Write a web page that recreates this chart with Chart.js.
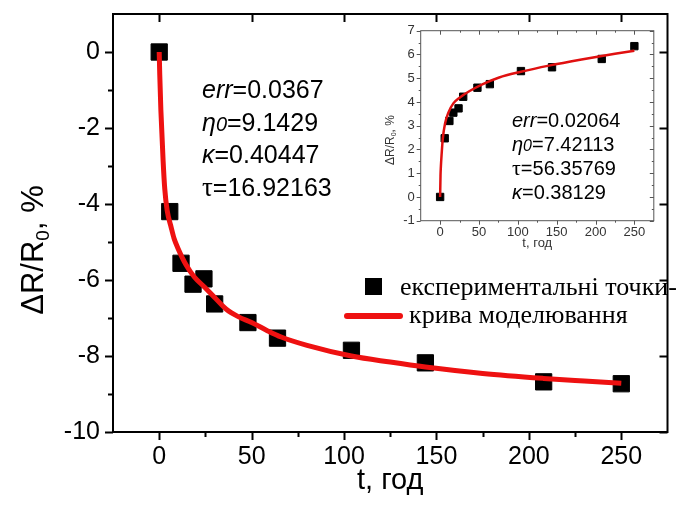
<!DOCTYPE html>
<html lang="uk">
<head>
<meta charset="UTF-8">
<title>ΔR/R0 від часу</title>
<script src="https://cdn.jsdelivr.net/npm/chart.js"></script>
<style>
  body { margin: 0; background: #fff; }
  #wrap { position: relative; width: 680px; height: 506px; }
  #main { position: absolute; left: 0; top: 0; }
  #inset { position: absolute; left: 380px; top: 10px; }
</style>
</head>
<body>
<div id="wrap">
  <canvas id="main" width="680" height="506"></canvas>
  <canvas id="inset" width="280" height="250"></canvas>
</div>
<script>
// main plot: experimental points and model curve
const tPoints = [0, 5.7, 11.8, 18.3, 24.2, 30, 48, 64, 104, 144, 208, 250];
const rPoints = [0, -4.2, -5.56, -6.11, -5.97, -6.63, -7.12, -7.53, -7.85, -8.18, -8.68, -8.73];
const tCurve = [0, 0.3, 0.9, 2.1, 3, 4.3, 6.5, 8, 10, 14.5, 19, 24.6, 30, 36.3, 43, 50, 58, 66, 80, 104, 125, 144, 175, 208, 230, 250];
const rCurve = [0, -0.6, -1.53, -2.85, -3.6, -4.17, -4.62, -4.9, -5.15, -5.6, -5.92, -6.19, -6.46, -6.77, -6.97, -7.12, -7.32, -7.5, -7.72, -8.0, -8.16, -8.29, -8.46, -8.59, -8.66, -8.72];

// inset
const tInset = [0, 5.9, 11.9, 17, 23.7, 29.7, 48, 64, 104, 144, 208, 250];
const rInset = [0, 2.47, 3.2, 3.55, 3.73, 4.22, 4.6, 4.75, 5.3, 5.46, 5.81, 6.35];
const tInsetCurve = [0, 0.5, 1, 2, 3.4, 6.4, 10.6, 17, 25.4, 38, 55, 76, 104, 140, 182, 225, 250];
const rInsetCurve = [0, 0.9, 1.3, 1.83, 2.45, 3.1, 3.55, 3.94, 4.19, 4.46, 4.75, 5.03, 5.27, 5.53, 5.79, 6.03, 6.16];

// ticks
const xTicks = [0, 50, 100, 150, 200, 250];
const xMinor = [25, 75, 125, 175, 225];
const yTicks = [-10, -8, -6, -4, -2, 0];
const yMinor = [-9, -7, -5, -3, -1];
const yTicksInset = [-1, 0, 1, 2, 3, 4, 5, 6, 7];
const yMinorInset = [-0.5, 0.5, 1.5, 2.5, 3.5, 4.5, 5.5, 6.5];

// fit parameters
const mainFitNames = ['err', 'η0', 'κ', 'τ'];
const mainFitValues = ['0.0367', '9.1429', '0.40447', '16.92163'];
const insetFitNames = ['err', 'η0', 'τ', 'κ'];
const insetFitValues = ['0.02064', '7.42113', '56.35769', '0.38129'];

const SANS = '"Liberation Sans", Arial, sans-serif';
const SERIF = '"Liberation Serif", "Times New Roman", serif';
const zip = (xs, ys) => xs.map((x, i) => ({ x, y: ys[i] }));

function drawFrame(chart, o) {
  const { ctx, chartArea: a, scales: { x, y } } = chart;
  ctx.save();
  ctx.strokeStyle = o.color;
  ctx.lineWidth = o.lw;
  ctx.strokeRect(a.left, a.top, a.right - a.left, a.bottom - a.top);
  ctx.beginPath();
  const xt = (vals, len, top) => vals.forEach(v => {
    const px = Math.round(x.getPixelForValue(v)) + 0.5;
    ctx.moveTo(px, a.bottom); ctx.lineTo(px, a.bottom + len);
    if (top) { ctx.moveTo(px, a.top); ctx.lineTo(px, a.top + len); }
  });
  const yt = (vals, len, right) => vals.forEach(v => {
    const py = Math.round(y.getPixelForValue(v)) + 0.5;
    ctx.moveTo(a.left, py); ctx.lineTo(a.left - len, py);
    if (right) { ctx.moveTo(a.right, py); ctx.lineTo(a.right - len, py); }
  });
  xt(o.xMajor, o.major, true);
  xt(o.xMinor, o.minor, o.minorMirror);
  yt(o.yMajor, o.major, true);
  yt(o.yMinor, o.minor, o.minorMirror);
  ctx.stroke();
  ctx.restore();
}

function drawFit(ctx, names, values, x, y0, dy, size) {
  ctx.save();
  ctx.fillStyle = '#000';
  ctx.textBaseline = 'alphabetic';
  ctx.textAlign = 'left';
  names.forEach((name, i) => {
    const by = y0 + i * dy;
    let cx = x;
    const seg = (txt, font) => { ctx.font = font; ctx.fillText(txt, cx, by); cx += ctx.measureText(txt).width; };
    if (name === 'η0') {
      seg('η', `italic ${size}px ${SANS}`);
      seg('0', `italic ${Math.round(size * 0.78)}px ${SANS}`);
    } else if (name === 'τ') {
      seg('τ', `${size + 2}px ${SERIF}`);
    } else {
      seg(name, `italic ${size}px ${SANS}`);
    }
    seg('=' + values[i], `${size}px ${SANS}`);
  });
  ctx.restore();
}

function drawYTitle(ctx, cx, cy, size, color) {
  ctx.save();
  ctx.translate(cx, cy);
  ctx.rotate(-Math.PI / 2);
  ctx.fillStyle = color;
  ctx.textBaseline = 'alphabetic';
  const big = `${size}px ${SANS}`, small = `${Math.round(size * 0.62)}px ${SANS}`;
  ctx.font = big; const w1 = ctx.measureText('ΔR/R').width;
  ctx.font = small; const w2 = ctx.measureText('0').width;
  ctx.font = big; const w3 = ctx.measureText(', %').width;
  let x = -(w1 + w2 + w3) / 2;
  ctx.fillText('ΔR/R', x, 0); x += w1;
  ctx.font = small; ctx.fillText('0', x, size * 0.2); x += w2;
  ctx.font = big; ctx.fillText(', %', x, 0);
  ctx.restore();
}

const mainDecor = {
  id: 'mainDecor',
  afterDraw(chart) {
    const { ctx, chartArea: a } = chart;
    drawFrame(chart, { color: '#000', lw: 2, major: 8, minor: 5, minorMirror: false,
      xMajor: xTicks, xMinor: xMinor, yMajor: yTicks, yMinor: yMinor });
    drawFit(ctx, mainFitNames, mainFitValues, 202, 98, 32.7, 25);

    // legend
    const ds = chart.data.datasets;
    ctx.save();
    ctx.fillStyle = '#000';
    ctx.fillRect(365, 278, 17, 17);
    ctx.strokeStyle = '#ee1111';
    ctx.lineWidth = 6;
    ctx.lineCap = 'round';
    ctx.beginPath(); ctx.moveTo(347, 316); ctx.lineTo(400, 316); ctx.stroke();
    ctx.font = `26px ${SERIF}`;
    ctx.fillStyle = '#000';
    ctx.fillText(ds[1].label, 400, 295);
    ctx.fillText(ds[0].label, 409, 323);

    // axis titles
    ctx.font = `29px ${SANS}`;
    ctx.textAlign = 'center';
    ctx.fillText('t, год', (a.left + a.right) / 2, 489);
    ctx.restore();
    drawYTitle(ctx, 43, 250, 31, '#000');
  }
};

const insetDecor = {
  id: 'insetDecor',
  afterDraw(chart) {
    const { ctx, chartArea: a } = chart;
    drawFrame(chart, { color: '#555', lw: 1, major: 4, minor: 2, minorMirror: true,
      xMajor: xTicks, xMinor: xMinor, yMajor: yTicksInset, yMinor: yMinorInset });
    drawFit(ctx, insetFitNames, insetFitValues, 132, 117, 24, 20);
    ctx.save();
    ctx.fillStyle = '#333';
    ctx.font = `13px ${SANS}`;
    ctx.textAlign = 'center';
    ctx.fillText('t, год', (a.left + a.right) / 2, 237);
    ctx.restore();
    drawYTitle(ctx, 14, 130, 12, '#333');
  }
};

const fixTicks = vals => s => { s.ticks = vals.map(v => ({ value: v })); };
const fixSize = (prop, size) => s => {
  s[prop] = size;
  s.paddingTop = 0; s.paddingBottom = 0; s.paddingLeft = 0; s.paddingRight = 0;
};

new Chart(document.getElementById('main'), {
  type: 'scatter',
  data: {
    datasets: [
      { label: 'крива моделювання', data: zip(tCurve, rCurve), showLine: true,
        borderColor: '#ee1111', borderWidth: 5, pointRadius: 0, cubicInterpolationMode: 'monotone', order: 0 },
      { label: 'експериментальні точки-', data: zip(tPoints, rPoints), pointStyle: 'rect',
        pointRadius: 11.5, backgroundColor: '#000', borderColor: '#000', borderWidth: 1, order: 1 }
    ]
  },
  options: {
    responsive: false, animation: false, devicePixelRatio: 1,
    layout: { padding: { top: 14, right: 2, left: 0, bottom: 0 } },
    plugins: { legend: { display: false }, tooltip: { enabled: false } },
    scales: {
      x: { type: 'linear', min: -25, max: 275, afterBuildTicks: fixTicks(xTicks),
        afterFit: fixSize('height', 74),
        grid: { display: false, drawTicks: false }, border: { display: false },
        ticks: { color: '#000', font: { family: SANS, size: 25 }, padding: 10, maxRotation: 0, autoSkip: false } },
      y: { min: -10, max: 1, afterBuildTicks: fixTicks(yTicks),
        afterFit: fixSize('width', 113),
        grid: { display: false, drawTicks: false }, border: { display: false },
        ticks: { color: '#000', font: { family: SANS, size: 25 }, padding: 13, autoSkip: false } }
    }
  },
  plugins: [mainDecor]
});

new Chart(document.getElementById('inset'), {
  type: 'scatter',
  data: {
    datasets: [
      { label: 'крива', data: zip(tInsetCurve, rInsetCurve), showLine: true,
        borderColor: '#e01010', borderWidth: 2.5, pointRadius: 0, cubicInterpolationMode: 'monotone', order: 0 },
      { label: 'точки', data: zip(tInset, rInset), pointStyle: 'rect',
        pointRadius: 5.2, backgroundColor: '#000', borderColor: '#000', borderWidth: 1, order: 1 }
    ]
  },
  options: {
    responsive: false, animation: false, devicePixelRatio: 1,
    layout: { padding: { top: 20.7, right: 3.3, left: 0, bottom: 0 } },
    plugins: { legend: { display: false }, tooltip: { enabled: false } },
    scales: {
      x: { type: 'linear', min: -25, max: 275, afterBuildTicks: fixTicks(xTicks),
        afterFit: fixSize('height', 39.3),
        grid: { display: false, drawTicks: false }, border: { display: false },
        ticks: { color: '#333', font: { family: SANS, size: 13 }, padding: 4, maxRotation: 0, autoSkip: false } },
      y: { min: -1, max: 7, afterBuildTicks: fixTicks(yTicksInset),
        afterFit: fixSize('width', 40.7),
        grid: { display: false, drawTicks: false }, border: { display: false },
        ticks: { color: '#333', font: { family: SANS, size: 13 }, padding: 6, autoSkip: false } }
    }
  },
  plugins: [insetDecor]
});
</script>
</body>
</html>
